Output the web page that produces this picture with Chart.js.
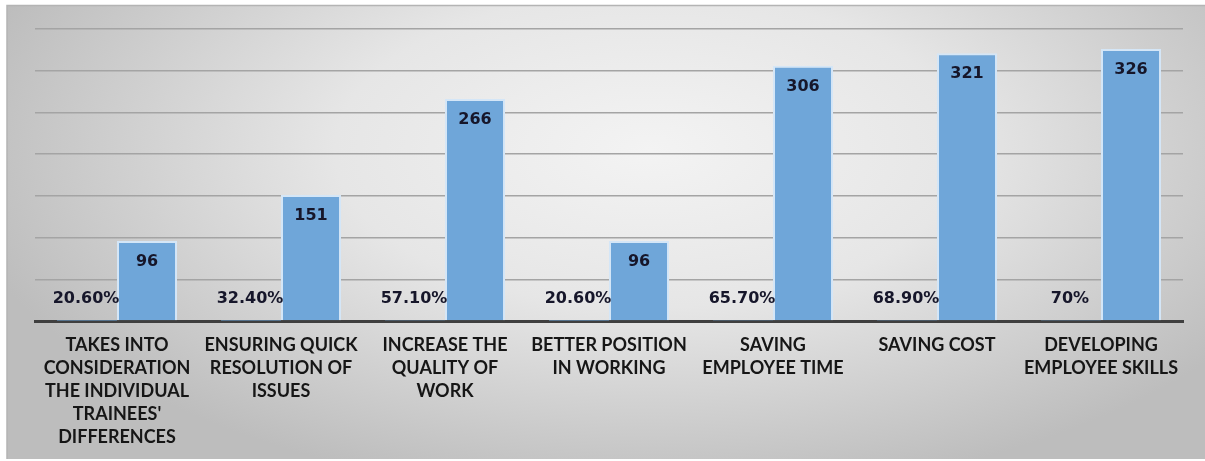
<!DOCTYPE html>
<html>
<head>
<meta charset="utf-8">
<script src="https://cdn.jsdelivr.net/npm/chart.js@4"></script>
<style>
  html, body { margin: 0; padding: 0; background: #fff; }
  #wrap { width: 1205px; height: 461px; }
</style>
</head>
<body>
<div id="wrap"><canvas id="bars"></canvas></div>
<script>
// values
const categories = [
    ["TAKES INTO", "CONSIDERATION", "THE INDIVIDUAL", "TRAINEES'", "DIFFERENCES"],
    ["ENSURING QUICK", "RESOLUTION OF", "ISSUES"],
    ["INCREASE THE", "QUALITY OF", "WORK"],
    ["BETTER POSITION", "IN WORKING"],
    ["SAVING", "EMPLOYEE TIME"],
    ["SAVING COST"],
    ["DEVELOPING", "EMPLOYEE SKILLS"]
];
const percentValues = [0.206, 0.324, 0.571, 0.206, 0.657, 0.689, 0.70];
const countValues = [96, 151, 266, 96, 306, 321, 326];
const yTicks = [0, 50, 100, 150, 200, 250, 300, 350];

const blue = '#6fa6d9';

function pctText(v) {
    const p = v * 100;
    return (Math.abs(p - Math.round(p)) < 1e-9 ? Math.round(p) : p.toFixed(2)) + '%';
}

// gray gradient panel behind the chart
const panelBg = {
    id: 'panelBg',
    beforeDraw(chart) {
        const ctx = chart.ctx;
        ctx.save();
        ctx.fillStyle = '#fff';
        ctx.fillRect(0, 0, chart.width, chart.height);
        ctx.translate(650, 150);
        ctx.scale(1, 0.5);
        const g = ctx.createRadialGradient(0, 0, 0, 0, 0, 700);
        g.addColorStop(0, '#f3f3f3');
        g.addColorStop(0.45, '#e6e6e6');
        g.addColorStop(1, '#bdbdbd');
        ctx.fillStyle = g;
        ctx.fillRect(-643, -290, 1198, 908);
        ctx.restore();
        ctx.save();
        ctx.strokeStyle = '#b4b4b4';
        ctx.lineWidth = 1.5;
        ctx.beginPath();
        ctx.moveTo(7, 459);
        ctx.lineTo(7, 5.5);
        ctx.lineTo(1205, 5.5);
        ctx.stroke();
        ctx.restore();
    }
};

// value labels: percent above the (flat) first bar, count inside the top of the second
const valueLabels = {
    id: 'valueLabels',
    afterDatasetsDraw(chart) {
        const ctx = chart.ctx;
        ctx.save();
        ctx.font = 'bold 16px "DejaVu Sans"';
        ctx.fillStyle = '#16162a';
        ctx.textAlign = 'center';
        ctx.textBaseline = 'middle';
        chart.getDatasetMeta(0).data.forEach((bar, i) => {
            ctx.fillText(pctText(percentValues[i]), bar.x - 1, bar.y - 22);
        });
        chart.getDatasetMeta(1).data.forEach((bar, i) => {
            ctx.fillText(String(countValues[i]), bar.x, bar.y + 21);
        });
        ctx.restore();
    }
};

new Chart(document.getElementById('bars'), {
    type: 'bar',
    data: {
        labels: categories,
        datasets: [
            {
                label: 'Percent',
                data: percentValues,
                backgroundColor: blue,
                borderWidth: 0
            },
            {
                label: 'Count',
                data: countValues,
                backgroundColor: blue,
                borderColor: '#d4e6f7',
                borderWidth: {top: 2, left: 2, right: 2, bottom: 0},
                borderSkipped: false
            }
        ]
    },
    options: {
        responsive: true,
        maintainAspectRatio: false,
        animation: false,
        events: [],
        datasets: {
            bar: { categoryPercentage: 0.732, barPercentage: 1 }
        },
        layout: { padding: { left: 35, right: 22, top: 29, bottom: 0 } },
        plugins: {
            legend: { display: false },
            tooltip: { enabled: false }
        },
        scales: {
            x: {
                grid: { display: false },
                border: { display: true, color: '#3f3f3f', width: 3 },
                ticks: {
                    autoSkip: false,
                    maxRotation: 0,
                    minRotation: 0,
                    padding: 5,
                    color: '#161616',
                    font: { family: 'Lato', weight: 'bold', size: 18, lineHeight: 1.28 }
                },
                afterFit(scale) { scale.height = 140; }
            },
            y: {
                min: 0,
                max: 350,
                afterBuildTicks(scale) { scale.ticks = yTicks.map(v => ({value: v})); },
                grid: {
                    color: '#a4a4a4',
                    lineWidth: 1.5,
                    drawTicks: false
                },
                border: { display: false },
                ticks: { display: false },
                afterFit(scale) { scale.width = 0; }
            }
        }
    },
    plugins: [panelBg, valueLabels]
});
</script>
</body>
</html>
